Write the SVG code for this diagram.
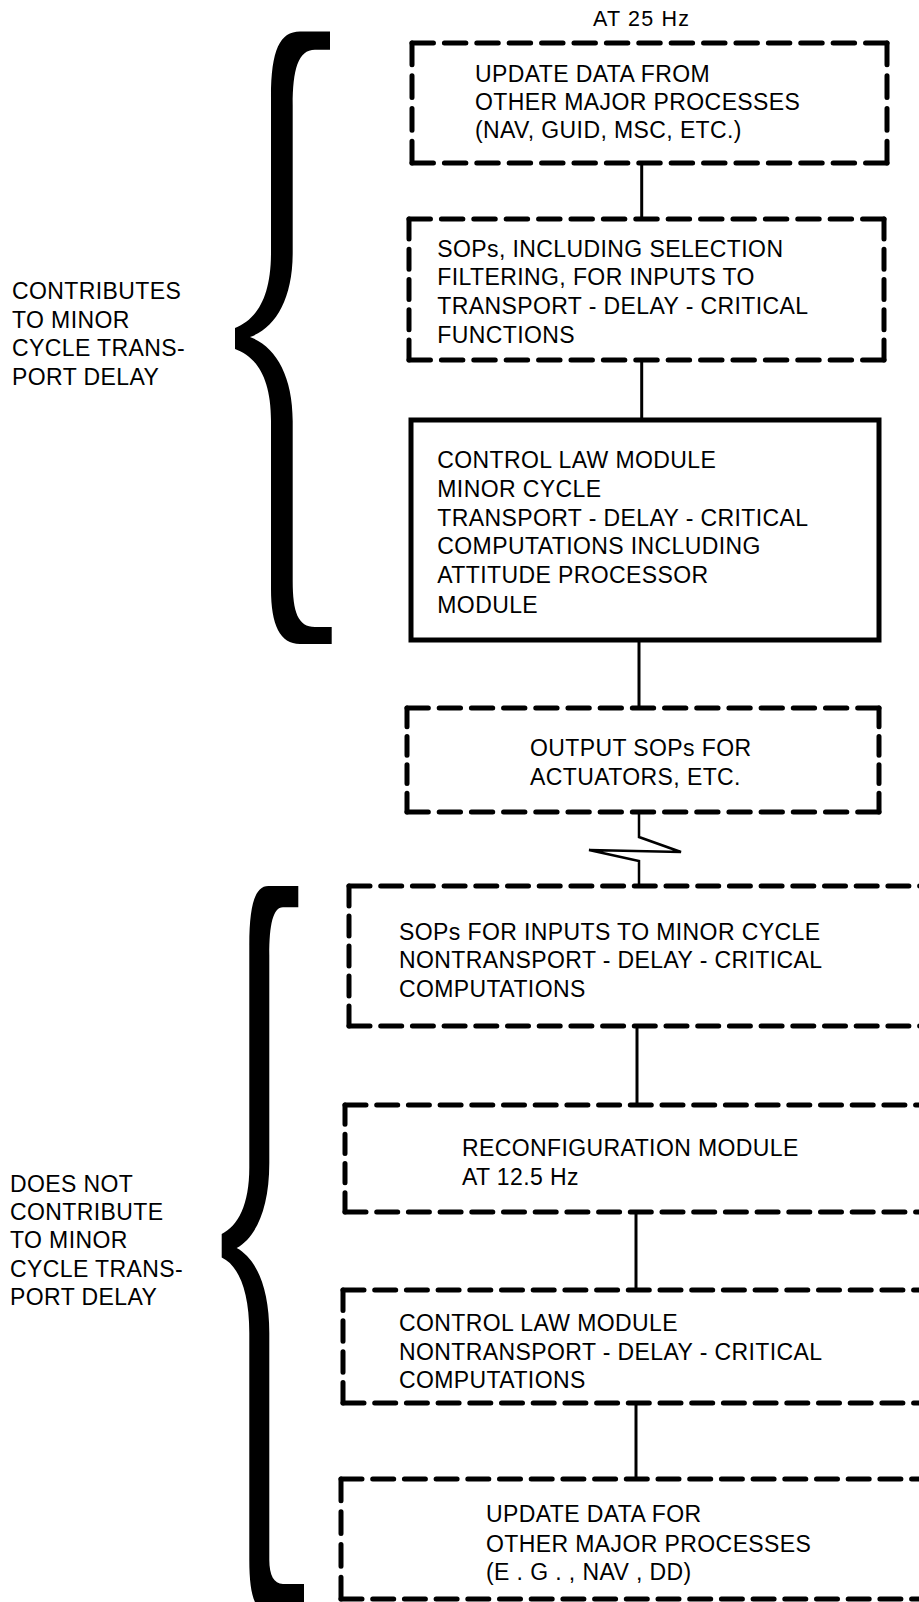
<svg xmlns="http://www.w3.org/2000/svg" width="919" height="1602" viewBox="0 0 919 1602">
<style>
.t{font-family:"Liberation Sans",Arial,sans-serif;font-size:23px;letter-spacing:0.4px;fill:#000}
.ts{font-size:21.5px;letter-spacing:1.2px}
.dash{fill:none;stroke:#000;stroke-width:5;stroke-linecap:round;stroke-dasharray:21 10.7}
.solid{fill:none;stroke:#000;stroke-width:5}
.conn{fill:none;stroke:#000;stroke-width:3}
.zig{fill:none;stroke:#000;stroke-width:2.5;stroke-linejoin:miter}
.brace{fill:#000;stroke:none}
</style>
<rect x="0" y="0" width="919" height="1602" fill="#fff"/>

<g id="connectors">
<path class="conn" d="M641.7 163V219"/>
<path class="conn" d="M641.7 360V420"/>
<path class="conn" d="M639 640V708"/>
<path class="zig" d="M639 812V837L681 852L589 850L639 861V886"/>
<path class="conn" d="M637 1026V1105"/>
<path class="conn" d="M636 1212V1290"/>
<path class="conn" d="M636 1403V1479"/>
</g>

<g id="label-rate">
<text class="t ts" x="593" y="26">AT 25 Hz</text>
</g>

<g id="node-update-from">
<path class="dash" d="M412 43H887" pathLength="464.8"/>
<path class="dash" d="M412 163H887" pathLength="464.8"/>
<path class="dash" d="M412 43V163" pathLength="116.1"/>
<path class="dash" d="M887 43V163" pathLength="116.1"/>
<text class="t"><tspan x="475" y="81.7">UPDATE DATA FROM</tspan><tspan x="475" y="110">OTHER MAJOR PROCESSES</tspan><tspan x="475" y="138.3">(NAV, GUID, MSC, ETC.)</tspan></text>
</g>

<g id="node-sops-inputs">
<path class="dash" d="M409 219H884" pathLength="464.8"/>
<path class="dash" d="M409 360H884" pathLength="464.8"/>
<path class="dash" d="M409 219V360" pathLength="147.8"/>
<path class="dash" d="M884 219V360" pathLength="147.8"/>
<text class="t"><tspan x="437.3" y="256.7">SOPs, INCLUDING SELECTION</tspan><tspan x="437.3" y="285">FILTERING, FOR INPUTS TO</tspan><tspan x="437.3" y="314">TRANSPORT - DELAY - CRITICAL</tspan><tspan x="437.3" y="342.7">FUNCTIONS</tspan></text>
</g>

<g id="node-control-minor">
<rect class="solid" x="411" y="420" width="468" height="220"/>
<text class="t"><tspan x="437.3" y="468.3">CONTROL LAW MODULE</tspan><tspan x="437.3" y="497.3">MINOR CYCLE</tspan><tspan x="437.3" y="525.7">TRANSPORT - DELAY - CRITICAL</tspan><tspan x="437.3" y="554">COMPUTATIONS INCLUDING</tspan><tspan x="437.3" y="583.3">ATTITUDE PROCESSOR</tspan><tspan x="437.3" y="613.3">MODULE</tspan></text>
</g>

<g id="node-output-sops">
<path class="dash" d="M407 708H879" pathLength="464.8"/>
<path class="dash" d="M407 812H879" pathLength="464.8"/>
<path class="dash" d="M407 708V812" pathLength="116.1"/>
<path class="dash" d="M879 708V812" pathLength="116.1"/>
<text class="t"><tspan x="530" y="756">OUTPUT SOPs FOR</tspan><tspan x="530" y="785">ACTUATORS, ETC.</tspan></text>
</g>

<g id="node-sops-nontransport">
<path class="dash" d="M349 886H935"/>
<path class="dash" d="M349 1026H935"/>
<path class="dash" d="M349 886V1026" pathLength="147.8"/>
<text class="t"><tspan x="399" y="940">SOPs FOR INPUTS TO MINOR CYCLE</tspan><tspan x="399" y="968.3">NONTRANSPORT - DELAY - CRITICAL</tspan><tspan x="399" y="996.7">COMPUTATIONS</tspan></text>
</g>

<g id="node-reconfiguration">
<path class="dash" d="M345 1105H935"/>
<path class="dash" d="M345 1212H935"/>
<path class="dash" d="M345 1105V1212" pathLength="116.1"/>
<text class="t"><tspan x="462" y="1156">RECONFIGURATION MODULE</tspan><tspan x="462" y="1185">AT 12.5 Hz</tspan></text>
</g>

<g id="node-control-nontransport">
<path class="dash" d="M343 1290H935"/>
<path class="dash" d="M343 1403H935"/>
<path class="dash" d="M343 1290V1403" pathLength="116.1"/>
<text class="t"><tspan x="399" y="1330.7">CONTROL LAW MODULE</tspan><tspan x="399" y="1360">NONTRANSPORT - DELAY - CRITICAL</tspan><tspan x="399" y="1388.3">COMPUTATIONS</tspan></text>
</g>

<g id="node-update-for">
<path class="dash" d="M341 1479H935"/>
<path class="dash" d="M341 1599H935"/>
<path class="dash" d="M341 1479V1599" pathLength="116.1"/>
<text class="t"><tspan x="486" y="1521.7">UPDATE DATA FOR</tspan><tspan x="486" y="1551.7">OTHER MAJOR PROCESSES</tspan><tspan x="486" y="1580">(E . G . , NAV , DD)</tspan></text>
</g>

<g id="brace-upper">
<path class="brace" d="M300 31.6H330V49.7H315C298 49.7 292.7 70 292.7 105V252.5C292.7 300 275 328 250 337C275 346 292.7 375 292.7 421V581C292.7 612 298 627 315 627H331.7V644H300C280 644 271 625 271 589V421C271 376 255 356 235 349V328C255 320 271 300 271 252.5V97C271 50 280 31.6 300 31.6Z"/>
</g>

<g id="brace-lower">
<path class="brace" d="M268.3 886H298.3V907.3H283C273 907.3 269.3 925 269.3 955V1163C269.3 1210 255 1238 236.7 1248C255 1258 269.3 1285 269.3 1333V1560C269.3 1575 274 1584 283 1584H304V1612H268C255 1612 249.3 1595 249.3 1560V1333C249.3 1290 238 1265 221.7 1257.5V1234C238 1226 249.3 1205 249.3 1167.6V945C249.3 905 255 886 268.3 886Z"/>
</g>

<g id="label-contributes">
<text class="t"><tspan x="12" y="299">CONTRIBUTES</tspan><tspan x="12" y="327.5">TO MINOR</tspan><tspan x="12" y="356">CYCLE TRANS-</tspan><tspan x="12" y="384.5">PORT DELAY</tspan></text>
</g>

<g id="label-not-contribute">
<text class="t"><tspan x="10" y="1191.7">DOES NOT</tspan><tspan x="10" y="1220">CONTRIBUTE</tspan><tspan x="10" y="1248.3">TO MINOR</tspan><tspan x="10" y="1276.7">CYCLE TRANS-</tspan><tspan x="10" y="1305">PORT DELAY</tspan></text>
</g>
</svg>
